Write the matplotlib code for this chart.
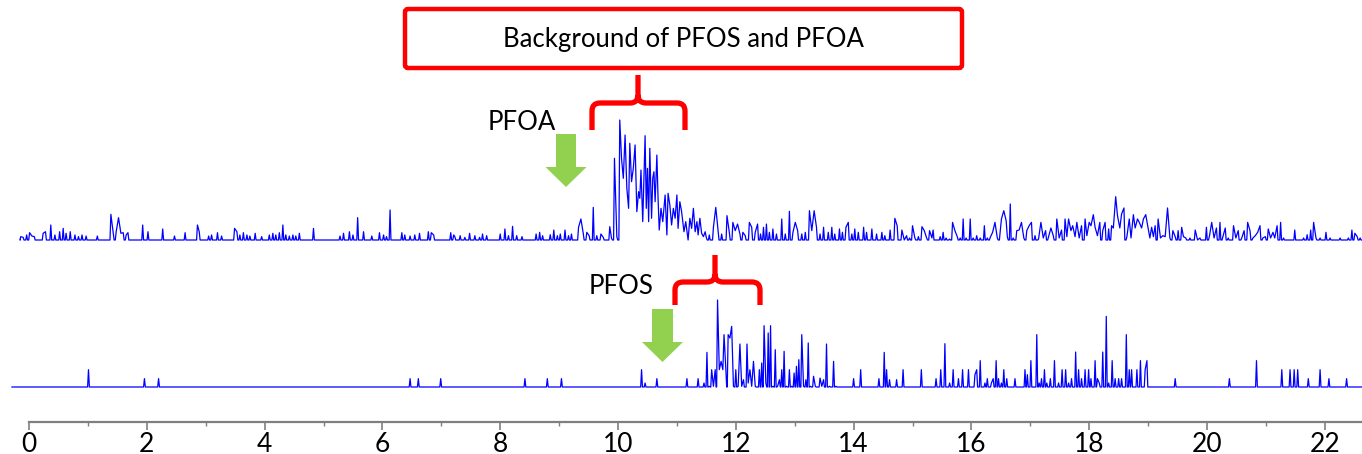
import matplotlib
matplotlib.use("Agg")
import matplotlib.pyplot as plt
from matplotlib.path import Path
from matplotlib.patches import PathPatch, Polygon, FancyBboxPatch

plt.rcParams['font.family'] = ['Lato', 'DejaVu Sans']

# top trace (PFOA channel): retention time (min), relative intensity (%)
top_t = [-0.14, -0.10, -0.04, 0.01, 0.05, 0.09, 0.24, 0.28, 0.37, 0.44, 0.52, 0.58, 0.63, 0.70,
         0.78, 0.84, 0.90, 0.97, 1.16, 1.39, 1.43, 1.48, 1.52, 1.56, 1.60, 1.65, 1.68, 1.93,
         2.02, 2.27, 2.47, 2.65, 2.86, 2.89, 3.05, 3.10, 3.20, 3.27, 3.49, 3.53, 3.58, 3.64,
         3.70, 3.75, 3.84, 3.95, 4.08, 4.14, 4.19, 4.25, 4.31, 4.36, 4.42, 4.48, 4.53, 4.59,
         4.83, 5.28, 5.34, 5.44, 5.50, 5.58, 5.68, 5.82, 5.95, 6.02, 6.07, 6.13, 6.33, 6.38,
         6.47, 6.55, 6.63, 6.78, 6.83, 6.87, 7.16, 7.21,
         7.23, 7.32, 7.40, 7.48, 7.57, 7.65, 7.70, 7.77, 8.00, 8.08, 8.14, 8.21, 8.28, 8.37,
         8.61, 8.67, 8.72, 8.85, 8.91, 8.97, 9.02, 9.10, 9.16, 9.21, 9.33, 9.37, 9.41, 9.47,
         9.51, 9.58, 9.64, 9.71, 9.75,
         9.86, 9.89, 9.94, 9.98, 10.03, 10.06, 10.09, 10.12, 10.15, 10.18, 10.20, 10.23, 10.26,
         10.29, 10.32, 10.35, 10.37, 10.39, 10.42, 10.45, 10.46, 10.48, 10.50, 10.52, 10.54,
         10.57, 10.59, 10.61, 10.63, 10.66, 10.68, 10.70, 10.73, 10.76, 10.80, 10.83, 10.85,
         10.88, 10.91, 10.94, 10.97, 11.00, 11.02, 11.05, 11.08, 11.12, 11.15, 11.19, 11.22,
         11.25, 11.28, 11.31, 11.34, 11.36, 11.39, 11.42, 11.45, 11.48, 11.50, 11.55,
         11.62, 11.66, 11.70, 11.76, 11.85, 11.89, 11.95, 11.99, 12.03, 12.07, 12.12, 12.16,
         12.23, 12.27, 12.33, 12.37, 12.42, 12.47, 12.52, 12.57, 12.63, 12.69, 12.78, 12.84,
         12.91, 12.97, 13.01, 13.05, 13.12, 13.18, 13.25, 13.29, 13.33, 13.37, 13.43, 13.49,
         13.57, 13.63, 13.68, 13.76, 13.81, 13.87, 13.91, 13.97, 14.02, 14.08, 14.17, 14.22,
         14.31, 14.39, 14.48, 14.53, 14.62, 14.70, 14.74,
         14.82, 14.86, 14.90, 14.95, 15.00, 15.04, 15.10, 15.16, 15.20, 15.24, 15.29, 15.33,
         15.35, 15.41, 15.47, 15.52, 15.57, 15.63, 15.68, 15.72, 15.76, 15.81, 15.86, 15.91,
         15.98, 16.03, 16.09, 16.15, 16.22, 16.27, 16.32, 16.36, 16.40, 16.44, 16.49, 16.51,
         16.55, 16.59, 16.61, 16.66, 16.71, 16.77, 16.81, 16.85, 16.89, 16.94, 16.98, 17.02,
         17.08, 17.14, 17.18, 17.22, 17.26, 17.31, 17.35, 17.39, 17.45, 17.49, 17.53, 17.59,
         17.62, 17.65, 17.69, 17.72, 17.76, 17.79, 17.83, 17.87, 17.93, 17.96, 18.00, 18.03,
         18.07, 18.10, 18.14, 18.18, 18.23, 18.27, 18.33, 18.38, 18.41, 18.45, 18.48, 18.52,
         18.55, 18.59, 18.64, 18.68, 18.71, 18.75, 18.78, 18.82, 18.85, 18.89, 18.92, 18.96,
         19.00, 19.03, 19.06, 19.09, 19.12, 19.17, 19.21, 19.25, 19.29, 19.33, 19.37, 19.42,
         19.46, 19.51, 19.57, 19.60, 19.64, 19.71, 19.80, 19.84, 19.88, 19.94, 19.99, 20.04,
         20.08, 20.12, 20.16, 20.22, 20.27, 20.31, 20.36, 20.45, 20.49, 20.53, 20.59, 20.63,
         20.69, 20.73, 20.78, 20.82, 20.86, 20.90, 20.95, 20.99, 21.04, 21.08, 21.12, 21.15,
         21.19, 21.25, 21.30, 21.38, 21.49, 21.55, 21.64, 21.70, 21.76, 21.81, 21.85, 21.92,
         22.02, 22.09, 22.17, 22.26, 22.34, 22.40, 22.46, 22.51, 22.55, 22.60]
top_i = [2.8, 2.2, 4.2, 6.1, 3.3, 2.8, 5.6, 6.9, 12.5, 4.2, 6.9, 9.7, 5.6, 6.9,
         4.2, 2.8, 4.2, 3.3, 3.3, 21.4, 5.6, 6.9, 18.6, 5.6, 6.1, 4.2, 6.1, 12.5,
         6.9, 9.2, 3.3, 6.1, 12.5, 6.9, 3.3, 4.2, 6.1, 3.3, 9.7, 6.9, 4.2, 6.1,
         4.2, 3.3, 5.6, 2.8, 4.2, 5.6, 4.2, 6.1, 12.5, 4.2, 3.3, 4.2, 3.3, 5.6,
         9.7, 3.3, 5.6, 6.9, 4.2, 18.6, 6.9, 3.3, 6.1, 4.2, 2.8, 25.0, 6.1, 4.2,
         3.3, 4.2, 5.6, 6.9, 6.1, 4.2, 6.1, 4.2,
         2.8, 3.6, 2.2, 5.6, 3.6, 2.2, 5.0, 3.6, 5.0, 9.2, 3.6, 11.4, 3.6, 2.8,
         5.0, 6.4, 3.6, 4.4, 8.3, 3.6, 5.0, 8.3, 3.6, 5.0, 10.6, 17.5, 5.6, 6.4,
         3.6, 27.2, 3.6, 5.0, 2.2,
         11.1, 1.4, 68.1, 2.8, 100.0, 68.1, 51.4, 87.5, 43.1, 26.4, 80.6, 48.6, 59.7,
         79.2, 23.6, 40.3, 34.7, 58.3, 15.3, 68.1, 86.9, 26.4, 59.7, 15.3, 76.4,
         18.1, 51.4, 56.9, 31.9, 70.8, 34.7, 8.3, 26.4, 15.3, 37.5, 4.2, 38.9,
         29.2, 12.5, 26.4, 18.1, 37.5, 9.7, 31.9, 23.6, 6.9, 15.3, 0.0, 18.1,
         9.7, 26.4, 6.9, 15.3, 4.2, 18.1, 5.6, 2.8, 6.9, 1.9, 4.2,
         10.6, 27.2, 7.8, 5.0, 20.3, 6.4, 14.7, 7.8, 13.3, 5.0, 6.4, 3.6,
         14.7, 10.6, 6.4, 13.3, 5.0, 10.6, 13.3, 6.4, 9.2, 5.0, 17.5, 5.0,
         23.9, 6.4, 14.7, 7.8, 5.0, 6.4, 24.4, 7.8, 24.4, 10.6, 5.0, 10.6,
         6.4, 10.6, 5.0, 9.2, 6.4, 10.6, 14.7, 5.0, 9.2, 6.4, 10.6, 6.4,
         9.2, 5.0, 6.4, 3.6, 8.3, 18.1, 11.9,
         8.3, 0.0, 3.6, 1.7, 11.9, 1.7, 2.8, 11.1, 7.8, 1.7, 7.8, 1.7,
         8.3, 0.0, 2.8, 6.4, 1.7, 0.8, 14.7, 7.8, 2.8, 1.7, 17.5, 1.7,
         17.5, 1.7, 3.6, 1.7, 11.9, 1.7, 2.2, 6.4, 14.7, 1.7, 7.8, 17.5,
         24.4, 16.1, 2.8, 30.0, 1.7, 7.8, 8.3, 14.7, 1.7, 7.8, 11.9, 14.7,
         3.6, 0.8, 14.7, 1.7, 7.8, 2.8, 10.0, 3.6, 17.5, 1.7, 8.3, 17.5,
         2.8, 17.5, 7.8, 11.9, 2.8, 14.7, 1.7, 11.9, 17.5, 3.6, 14.7, 11.9,
         21.1, 10.6, 3.6, 14.7, 7.8, 14.7, 9.2, 11.9, 10.0, 36.1, 20.3, 10.0,
         21.7, 26.7, 2.8, 17.5, 1.7, 21.1, 10.0, 17.5, 14.7, 10.0, 17.5, 21.1,
         10.0, 1.7, 10.6, 2.8, 11.9, 17.5, 1.7, 3.6, 2.8, 26.7, 1.7, 7.8,
         2.8, 7.8, 10.6, 2.8, 1.7, 1.7, 8.3, 0.0, 1.7, 0.0, 10.6, 2.8,
         14.7, 1.7, 10.0, 14.7, 2.8, 10.0, 1.7, 11.9, 1.7, 7.8, 1.7, 7.8,
         14.7, 7.8, 1.7, 3.6, 6.4, 11.9, 1.7, 2.8, 9.2, 1.7, 6.4, 1.7,
         11.9, 14.7, 1.7, 0.0, 8.3, 0.0, 1.7, 4.4, 8.3, 14.7, 1.7, 1.7,
         6.4, 1.7, 0.0, 1.7, 0.0, 1.7, 8.3, 5.6, 2.8, 1.7]

# bottom trace (PFOS channel)
bot_t = [1.01, 1.96, 2.20, 6.47, 6.61, 6.99, 8.42, 8.80, 9.04, 10.40, 10.46, 10.66, 11.17,
         11.36, 11.46, 11.51, 11.55, 11.59, 11.62, 11.65, 11.69, 11.72, 11.75, 11.78, 11.80,
         11.83, 11.87, 11.90, 11.93, 11.96, 12.00, 12.04, 12.07, 12.10, 12.13, 12.19, 12.21,
         12.24, 12.27, 12.30, 12.33, 12.40, 12.44, 12.48, 12.51, 12.55, 12.59, 12.63, 12.67,
         12.71, 12.74, 12.78, 12.82, 12.86, 12.91, 12.95, 12.99, 13.03, 13.07, 13.12, 13.15,
         13.19, 13.23, 13.27, 13.32, 13.35, 13.43, 13.46, 13.49, 13.54, 13.59, 13.66, 13.70,
         14.00, 14.12, 14.43, 14.52, 14.56, 14.61, 14.73, 14.84, 15.15, 15.40, 15.48, 15.55,
         15.63, 15.69, 15.78, 15.85, 15.95, 16.06, 16.09, 16.15, 16.23, 16.27, 16.34, 16.37,
         16.42, 16.46, 16.51, 16.55, 16.60, 16.74, 16.91, 16.95, 17.01, 17.11, 17.15, 17.19,
         17.24, 17.28, 17.34, 17.41, 17.48, 17.54, 17.60, 17.65, 17.70, 17.77, 17.82, 17.87,
         17.93, 17.99, 18.03, 18.10, 18.14, 18.17, 18.23, 18.29, 18.33, 18.39, 18.44, 18.50,
         18.55, 18.63, 18.68, 18.72, 18.81, 18.87, 18.95, 18.98, 19.46, 20.38, 20.84, 21.27,
         21.41, 21.48, 21.54, 21.72, 21.92, 22.07, 22.37]
bot_i = [19.9, 9.6, 9.6, 9.6, 9.6, 9.6, 9.6, 9.6, 9.6, 19.9, 4.6, 9.6, 9.6,
         9.6, 4.6, 39.8, 0.8, 19.9, 0.8, 19.9, 100.0, 19.9, 29.5, 19.9, 60.2,
         21.8, 60.2, 56.3, 69.7, 0.8, 19.9, 0.8, 49.4, 0.8, 8.4, 49.4, 4.6,
         19.9, 0.8, 29.5, 0.8, 19.9, 27.6, 70.5, 4.6, 62.1, 70.5, 0.8, 42.9,
         0.8, 8.4, 19.9, 41.0, 0.8, 19.9, 0.8, 16.1, 23.8, 31.4, 60.2, 0.8,
         8.4, 50.6, 0.8, 12.3, 0.8, 10.3, 0.8, 8.4, 49.4, 0.8, 29.5, 0.8,
         9.6, 19.9, 9.6, 39.8, 19.9, 8.4, 8.4, 19.9, 19.9, 9.6, 19.9, 49.8,
         4.6, 19.9, 9.6, 19.9, 19.9, 14.2, 19.9, 30.3, 4.6, 9.6, 4.6, 9.6,
         30.3, 9.6, 4.6, 19.9, 9.6, 9.6, 19.9, 14.2, 30.3, 60.2, 4.6, 9.6,
         19.9, 4.6, 9.6, 30.3, 4.6, 19.9, 19.9, 4.6, 9.6, 40.2, 19.9, 9.6,
         19.9, 19.9, 9.6, 30.3, 9.6, 4.6, 40.2, 81.2, 4.6, 30.3, 9.6, 9.6,
         9.6, 60.2, 19.9, 19.9, 19.9, 30.3, 19.9, 30.3, 9.6, 9.6, 30.3, 19.9,
         19.9, 19.9, 19.9, 9.6, 19.9, 9.6, 9.6]

x_ticks = list(range(0, 23, 2))

W, H = 1362, 454
X0_PX, PX_PER_MIN = 29, 58.9
XMIN = -X0_PX / PX_PER_MIN
XMAX = (W - X0_PX) / PX_PER_MIN
BLUE = "#0000FF"
RED = "#FF0000"
GREEN = "#92D050"


def fy(px):
    # pixel row (from top) -> figure fraction
    return (H - px) / H


def trace(ts, hs, gap, w, t0, t1):
    # peaks further apart than gap drop back to the baseline
    xs, ys = [t0], [0.0]
    n = len(ts)
    for i in range(n):
        if i == 0 or ts[i] - ts[i - 1] > gap:
            xs.append(ts[i] - w); ys.append(0.0)
        xs.append(ts[i]); ys.append(hs[i])
        if i == n - 1 or ts[i + 1] - ts[i] > gap:
            xs.append(ts[i] + w); ys.append(0.0)
    xs.append(t1); ys.append(0.0)
    return xs, ys


fig = plt.figure(figsize=(W / 100, H / 100), dpi=100)

ax_top = fig.add_axes([0, fy(240), 1, 120 / H])
x, y = trace(top_t, top_i, 0.045, 0.015, -0.15, XMAX)
ax_top.plot(x, y, color=BLUE, lw=0.9, clip_on=False)

ax_bot = fig.add_axes([0, fy(387), 1, 87 / H])
x, y = trace(bot_t, bot_i, 0.035, 0.015, -0.29, XMAX)
ax_bot.plot(x, y, color=BLUE, lw=0.9, clip_on=False)

for ax in (ax_top, ax_bot):
    ax.set_xlim(XMIN, XMAX)
    ax.set_ylim(0, 100)
    ax.axis("off")

# time axis
ax_x = fig.add_axes([0, fy(422), 1, 0.05])
ax_x.patch.set_visible(False)
ax_x.set_xlim(XMIN, XMAX)
for s in ("top", "left", "right"):
    ax_x.spines[s].set_visible(False)
ax_x.spines["bottom"].set_color("#7f7f7f")
ax_x.spines["bottom"].set_linewidth(1.6)
ax_x.spines["bottom"].set_bounds(0, XMAX)
ax_x.set_yticks([])
ax_x.set_xticks(x_ticks)
ax_x.set_xticks(range(1, 23, 2), minor=True)
ax_x.tick_params(axis="x", which="major", length=6, width=1.2, color="#7f7f7f",
                 pad=1, labelsize=19, labelcolor="black")
ax_x.tick_params(axis="x", which="minor", length=3, width=1.0, color="#7f7f7f")

# annotations in pixel coordinates
ann = fig.add_axes([0, 0, 1, 1])
ann.set_xlim(0, W)
ann.set_ylim(H, 0)
ann.axis("off")

ann.add_patch(FancyBboxPatch((405, 9), 557, 59, boxstyle="round,pad=0,rounding_size=3",
                             fill=False, ec=RED, lw=3.2))
ann.text(683, 39, "Background of PFOS and PFOA", ha="center", va="center", fontsize=18.5)


def brace(xl, xr, xm, y_bar, y_end, y_tip, r=8):
    verts = [(xl, y_end), (xl, y_bar + r), (xl, y_bar), (xl + r, y_bar),
             (xm - r, y_bar), (xm, y_bar), (xm, y_bar - r), (xm, y_tip),
             (xm, y_bar - r), (xm, y_bar), (xm + r, y_bar),
             (xr - r, y_bar), (xr, y_bar), (xr, y_bar + r), (xr, y_end)]
    codes = [Path.MOVETO, Path.LINETO, Path.CURVE3, Path.CURVE3,
             Path.LINETO, Path.CURVE3, Path.CURVE3, Path.LINETO,
             Path.MOVETO, Path.CURVE3, Path.CURVE3,
             Path.LINETO, Path.CURVE3, Path.CURVE3, Path.LINETO]
    ann.add_patch(PathPatch(Path(verts, codes), fill=False, ec=RED, lw=3.8,
                            capstyle="butt", joinstyle="round"))


brace(592, 685, 638, 103, 130, 75)
brace(675, 760, 715, 282, 305, 255)


def arrow(xl, xr, y_top, head_y, tip_y, head_half=20.5):
    xc = (xl + xr) / 2
    pts = [(xl, y_top), (xr, y_top), (xr, head_y), (xc + head_half, head_y),
           (xc, tip_y), (xc - head_half, head_y), (xl, head_y)]
    ann.add_patch(Polygon(pts, closed=True, fc=GREEN, ec="none"))


arrow(556, 576, 134, 167, 187)
arrow(652, 673, 309, 342, 362)

ann.text(522, 122, "PFOA", ha="center", va="center", fontsize=18.5)
ann.text(621, 287, "PFOS", ha="center", va="center", fontsize=18.5)

fig.savefig("out.png", dpi=100)
